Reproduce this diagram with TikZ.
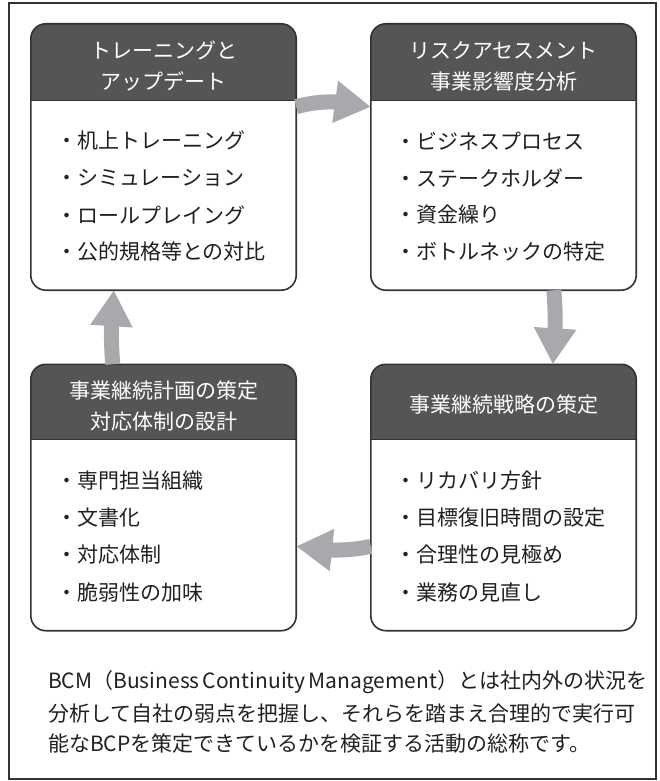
\documentclass[tikz,border=0pt]{standalone}
\usepackage{fontspec}
\setmainfont{Noto Sans CJK JP}
\usetikzlibrary{arrows.meta,bending,calc}
\definecolor{hdr}{HTML}{555555}
\definecolor{edge}{HTML}{333333}
\definecolor{arrg}{HTML}{A7A9AC}
\definecolor{ink}{HTML}{231F20}
\newcommand\mkbox[3]{%
  \node[boxframe] (#1) at (#2) {};
  \begin{scope}
    \clip[rounded corners=15pt] (#1.south west) rectangle (#1.north east);
    \fill[hdr] (#1.north west) rectangle ($(#1.north east)+(0,#3)$);
  \end{scope}
  \draw[edge,line width=1.6pt,rounded corners=15pt] (#1.south west) rectangle (#1.north east);
  \draw[edge,line width=1.2pt] ($(#1.north west)+(0,#3)$) -- ($(#1.north east)+(0,#3)$);
}
\begin{document}
\begin{tikzpicture}[x=1pt,y=-1pt,
  boxframe/.style={fill=white,minimum width=265pt,minimum height=266pt,inner sep=0pt},
  hdtext/.style={text=white,font=\fontsize{21}{31}\selectfont,align=center,inner sep=0pt},
  item/.style={text=ink,font=\fontsize{21}{24}\selectfont,anchor=west,inner sep=0pt},
  para/.style={text=ink,font=\fontsize{21}{24}\selectfont,anchor=base west,inner sep=0pt},
  arr/.style={draw=arrg,line width=15pt,-{Triangle[length=36pt,width=40pt,flex]}}]
\useasboundingbox (0,0) rectangle (659,781);
\node[draw=edge,line width=1.2pt,minimum width=647pt,minimum height=776pt,inner sep=0pt] (frame) at (332.5,391) {};

\mkbox{b1}{163.5,157}{77}
\mkbox{b2}{503.5,157}{77}
\mkbox{b3}{163.5,497.5}{75}
\mkbox{b4}{503.5,497.5}{75}

\node[hdtext] (h1) at (163.5,66) {トレーニングと\\アップデート};
\node[hdtext] (h2) at (503.5,66) {リスクアセスメント\\事業影響度分析};
\node[hdtext] (h3) at (163.5,405.5) {事業継続計画の策定\\対応体制の設計};
\node[hdtext] (h4) at (503.5,405) {事業継続戦略の策定};

\node[item] (i11) at (56,141) {・机上トレーニング};
\node[item] (i12) at (56,178) {・シミュレーション};
\node[item] (i13) at (56,215) {・ロールプレイング};
\node[item] (i14) at (56,252) {・公的規格等との対比};

\node[item] (i21) at (395,141) {・ビジネスプロセス};
\node[item] (i22) at (395,178) {・ステークホルダー};
\node[item] (i23) at (395,215) {・資金繰り};
\node[item] (i24) at (395,252) {・ボトルネックの特定};

\node[item] (i31) at (56,481) {・専門担当組織};
\node[item] (i32) at (56,518) {・文書化};
\node[item] (i33) at (56,555) {・対応体制};
\node[item] (i34) at (56,592) {・脆弱性の加味};

\node[item] (i41) at (395,481) {・リカバリ方針};
\node[item] (i42) at (395,518) {・目標復旧時間の設定};
\node[item] (i43) at (395,555) {・合理性の見極め};
\node[item] (i44) at (395,592) {・業務の見直し};

\draw[arr] ($(b1.north east)+(0,83)$) .. controls +(24,-7) and +(-26,-6) .. ($(b2.north west)+(0,83)$);
\draw[arr] ($(b2.south west)+(183,0)$) .. controls +(2,22) and +(3,-24) .. ($(b4.north west)+(182,0)$);
\draw[arr] ($(b4.north west)+(0,182)$) .. controls +(-22,5) and +(26,5) .. ($(b3.north east)+(0,182)$);
\draw[arr] ($(b3.north west)+(82,0)$) .. controls +(-2,-22) and +(-3,26) .. ($(b1.south west)+(83,0)$);

\node[para] (t1) at (48,688) {\makebox[574pt][s]{BCM（Business Continuity Management）とは社内外の状況を}};
\node[para] (t2) at (48,721) {分析して自社の弱点を把握し、それらを踏まえ合理的で実行可};
\node[para] (t3) at (48,751) {能なBCPを策定できているかを検証する活動の総称です。};
\end{tikzpicture}
\end{document}
